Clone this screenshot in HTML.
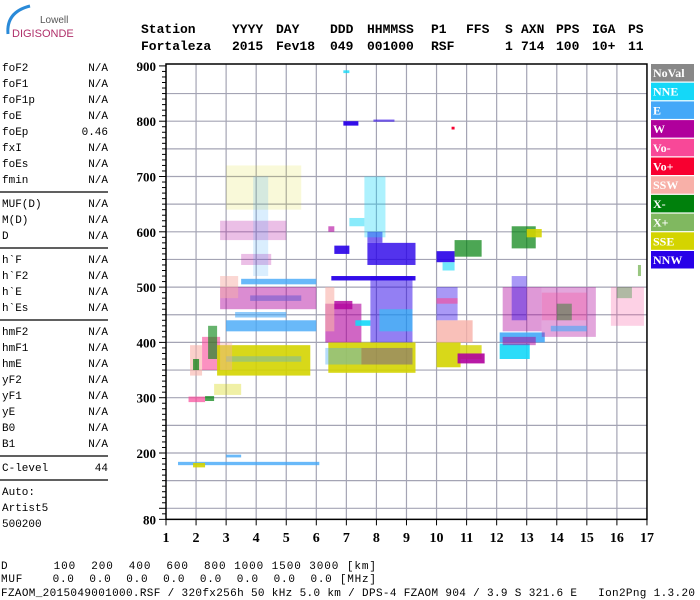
<!DOCTYPE html>
<html><head><meta charset="utf-8"><style>
body{margin:0;background:#fff;width:700px;height:600px;overflow:hidden}
svg{display:block}
.m{font-family:"Liberation Mono",monospace}
.b{font-family:"Liberation Serif",serif;font-weight:bold}
</style></head><body>
<svg id="s" width="700" height="600" xmlns="http://www.w3.org/2000/svg">
<g>
<path d="M8 34 Q6 12 30 6" stroke="#2a8ad8" stroke-width="3" fill="none"/>
<text x="40" y="23" font-family="Liberation Sans,sans-serif" font-size="10" fill="#555">Lowell</text>
<text x="12" y="37" font-family="Liberation Sans,sans-serif" font-size="11" fill="#b0306a">DIGISONDE</text>
</g>
<g id="hdr" class="m" font-weight="bold" font-size="13"></g>
<g id="left" class="m" font-size="11"></g>
<g id="plot"></g>
<g id="legend"></g>
<g class="m" font-size="11">
<text x="1" y="569" textLength="375" xml:space="preserve">D      100  200  400  600  800 1000 1500 3000 [km]</text>
<text x="1" y="582" textLength="375" xml:space="preserve">MUF    0.0  0.0  0.0  0.0  0.0  0.0  0.0  0.0 [MHz]</text>
<text x="1" y="596" textLength="694" xml:space="preserve">FZAOM_2015049001000.RSF / 320fx256h 50 kHz 5.0 km / DPS-4 FZAOM 904 / 3.9 S 321.6 E   Ion2Png 1.3.20</text>
</g>
</svg>
<script>
const colors=["#888888","#14d8f8","#44a8f8","#b0009c","#f84898","#f80030","#f8b0a8","#00800c","#80b860","#d4d400","#2800e8"];
const legendLabels=["NoVal","NNE","E","W","Vo-","Vo+","SSW","X-","X+","SSE","NNW"];
const xTicks=[1,2,3,4,5,6,7,8,9,10,11,12,13,14,15,16,17];
const yTicks=[80,200,300,400,500,600,700,800,900];
const hdrTokens=[["Station",141],["YYYY",232],["DAY",276],["DDD",330],["HHMMSS",367],["P1",431],["FFS",466],["S",505],["AXN",521],["PPS",556],["IGA",592],["PS",628]];
const hdrValues=[["Fortaleza",141],["2015",232],["Fev18",276],["049",330],["001000",367],["RSF",431],["1",505],["714",521],["100",556],["10+",592],["11",628]];
const paramNames=["foF2","foF1","foF1p","foE","foEp","fxI","foEs","fmin","|","MUF(D)","M(D)","D","|","h`F","h`F2","h`E","h`Es","|","hmF2","hmF1","hmE","yF2","yF1","yE","B0","B1","|","C-level","|"];
const paramValues=["N/A","N/A","N/A","N/A","0.46","N/A","N/A","N/A","|","N/A","N/A","N/A","|","N/A","N/A","N/A","N/A","|","N/A","N/A","N/A","N/A","N/A","N/A","N/A","N/A","|","44","|"];
// echo blocks: f0,f1 (MHz), h0,h1 (km), colour index, density
const blockF0=[1.75,2.3,1.8,1.9,2.2,2.4,2.6,2.7,3.0,2.8,3.0,3.3,3.5,3.8,2.8,2.8,2.8,3.5,3.0,3.9,1.4,1.9,3.0,
6.4,7.5,6.3,6.3,6.3,7.3,7.8,8.1,6.6,6.5,6.6,7.7,7.7,7.6,7.1,6.4,6.9,7.9,6.9,
10.0,10.8,10.7,10.0,10.0,10.0,10.0,10.2,10.6,10.5,
12.1,12.1,12.2,12.2,12.5,12.5,13.0,13.5,13.8,13.5,14.0,15.8,16.0,16.7];
const blockF1=[2.3,2.6,2.2,2.1,2.8,2.7,3.5,5.8,5.5,3.2,6.0,5.0,6.0,5.5,6.0,3.4,5.0,4.5,5.5,4.4,6.1,2.3,3.5,
9.3,9.2,7.5,7.5,6.6,7.8,9.2,9.2,7.2,9.3,7.1,9.3,8.2,8.3,7.6,6.6,7.4,8.6,7.1,
10.8,11.5,11.6,11.2,10.7,10.7,10.6,10.6,11.5,10.6,
13.1,13.6,13.3,13.5,13.0,13.3,13.5,15.3,15.0,15.0,14.5,16.9,16.5,16.8];
const blockH0=[292,294,340,350,350,370,305,340,365,350,420,445,505,475,460,480,585,540,640,520,178,174,192,
345,360,360,400,420,430,400,420,460,512,560,540,580,590,610,600,792,799,887,
355,370,362,400,440,470,545,530,555,785,
370,400,395,420,440,570,590,410,420,440,440,430,480,520];
const blockH1=[302,303,395,370,410,430,325,395,375,400,440,455,515,485,500,520,620,560,720,700,184,182,197,
400,390,390,470,500,440,520,460,475,520,575,580,600,700,625,610,800,803,892,
400,395,380,440,500,480,565,545,585,790,
398,418,410,500,520,610,605,500,430,490,470,500,500,540];
const blockC=[4,7,6,7,4,7,9,9,2,6,2,2,2,2,3,6,3,3,9,2,2,9,2,
9,10,2,3,6,1,10,1,3,10,10,10,10,1,1,3,10,10,1,
9,9,3,6,10,4,10,1,7,5,
1,2,3,3,10,7,9,3,2,4,7,4,7,8];
const blockD=[.7,.7,.6,.7,.6,.6,.35,.9,.35,.4,.8,.6,.8,.6,.45,.5,.25,.25,.15,.2,.8,.9,.8,
.9,.3,.4,.6,.6,.9,.5,.5,.8,.95,.9,.8,.6,.35,.5,.6,.95,.6,.8,
.9,.8,.9,.8,.4,.6,.9,.6,.7,1,
.9,.9,.5,.4,.4,.7,.9,.35,.6,.3,.4,.25,.3,.8];

const NS="http://www.w3.org/2000/svg";
const X0=166,XS=30.06,Y200=453,YS=0.553;
const xs=f=>X0+(f-1)*XS;
const ys=h=>Y200-(h-200)*YS;
function mk(tag,attrs,parent,txt){const e=document.createElementNS(NS,tag);for(const k in attrs)e.setAttribute(k,attrs[k]);if(txt!==undefined)e.textContent=txt;parent.appendChild(e);return e;}

const hdr=document.getElementById('hdr');
hdrTokens.forEach(t=>{const e=mk('text',{x:t[1],y:33},hdr,t[0]);

});
hdrValues.forEach(t=>{const e=mk('text',{x:t[1],y:50},hdr,t[0]);

});

const left=document.getElementById('left');
let y=71;
paramNames.forEach((n,i)=>{
  if(n==='|'){const l=mk('line',{x1:0,x2:108,y1:y-7,y2:y-7,stroke:'#000','stroke-width':1.3},left);
    
    
    y+=8;return;}
  const a=mk('text',{x:2,y:y},left,n);
  
  
  const b=mk('text',{x:108,y:y,'text-anchor':'end'},left,paramValues[i]);
  
  
  y+=16;});
['Auto:','Artist5','500200'].forEach((t,i)=>{const e=mk('text',{x:2,y:495+i*16},left,t);

});

const plot=document.getElementById('plot');
for(let h=100;h<=850;h+=50){const l=mk('line',{x1:xs(1),x2:xs(17),y1:ys(h),y2:ys(h),stroke:'#a4a4b4','stroke-width':1.2},plot);

}
for(let f=2;f<=16;f++){const l=mk('line',{x1:xs(f),x2:xs(f),y1:64,y2:ys(80),stroke:'#a4a4b4','stroke-width':1.2},plot);

}
const eg=mk('g',{},plot);


for(let i=0;i<blockF0.length;i++){
  const x=xs(blockF0[i]),w=Math.max(2,xs(blockF1[i])-x),yt=ys(blockH1[i]),hh=Math.max(2,ys(blockH0[i])-yt);
  const r=mk('rect',{x:x,y:yt,width:w,height:hh,fill:colors[blockC[i]],'fill-opacity':blockD[i]},eg);
  
  }
const fr=mk('rect',{x:xs(1),y:64,width:xs(17)-xs(1),height:ys(80)-64,fill:'none',stroke:'#000','stroke-width':1.5},plot);


for(let h=80;h<=900;h+=10){const maj=h%100===0||h===80;
  const l=mk('line',{x1:xs(1)-(maj?7:4),x2:xs(1),y1:ys(h),y2:ys(h),stroke:'#000'},plot);
  
  }
yTicks.forEach(h=>{const t=mk('text',{x:156,y:ys(h)+5,'text-anchor':'end','font-size':13,class:'b'},plot,h);

});
xTicks.forEach(f=>{const l=mk('line',{x1:xs(f),x2:xs(f),y1:ys(80),y2:ys(80)+6,stroke:'#000'},plot);


const t=mk('text',{x:xs(f),y:542,'text-anchor':'middle','font-size':14,class:'b'},plot,f);

});

const lg=document.getElementById('legend');
legendLabels.forEach((n,i)=>{
  const yy=64+i*18.7;
  const r=mk('rect',{x:651,y:yy,width:43,height:17.5,fill:colors[i]},lg);
  
  
  const t=mk('text',{x:653,y:yy+13,'font-size':12,fill:'#fff',class:'b'},lg,n);
  
  });
</script>
</body></html>
